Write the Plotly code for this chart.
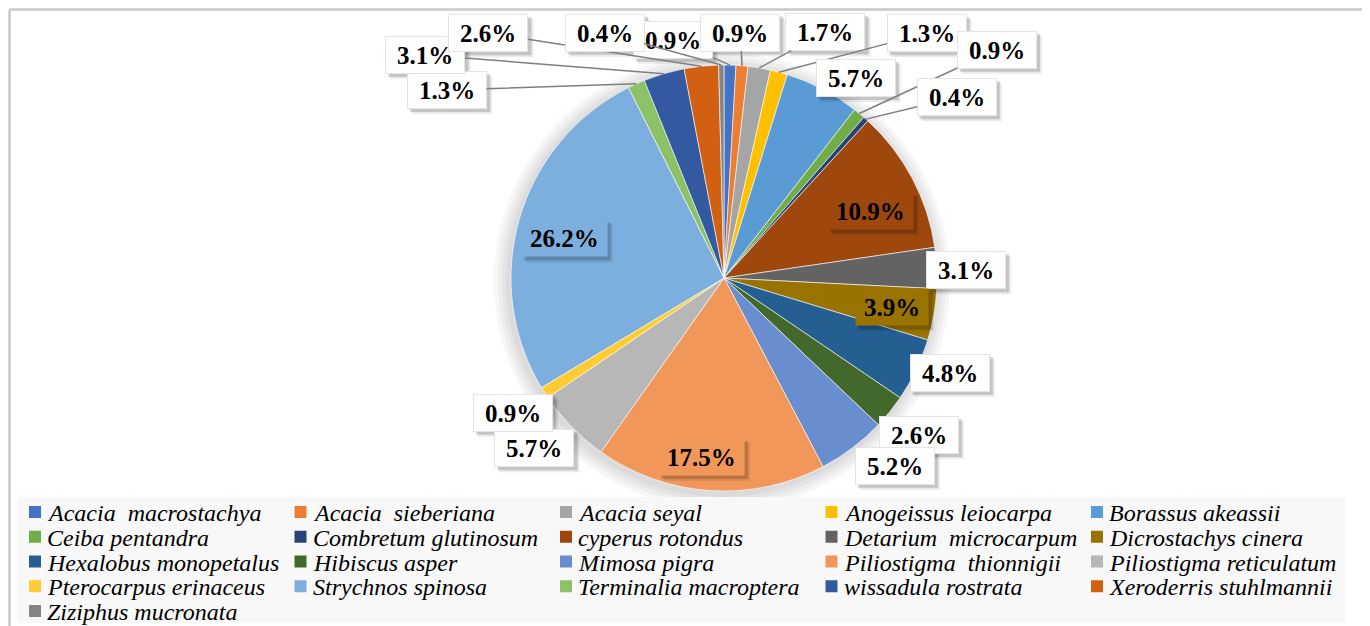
import numpy as np
import plotly.graph_objects as go

species = [
    "Acacia\u00a0 macrostachya", "Acacia\u00a0 sieberiana", "Acacia seyal",
    "Anogeissus leiocarpa", "Borassus akeassii", "Ceiba pentandra",
    "Combretum glutinosum", "cyperus rotondus", "Detarium\u00a0 microcarpum",
    "Dicrostachys cinera", "Hexalobus monopetalus", "Hibiscus asper",
    "Mimosa pigra", "Piliostigma\u00a0 thionnigii", "Piliostigma reticulatum",
    "Pterocarpus erinaceus", "Strychnos spinosa", "Terminalia macroptera",
    "wissadula rostrata", "Xeroderris stuhlmannii", "Ziziphus mucronata",
]
percent = [0.9, 0.9, 1.7, 1.3, 5.7, 0.9, 0.4, 10.9, 3.1, 3.9, 4.8,
           2.6, 5.2, 17.5, 5.7, 0.9, 26.2, 1.3, 3.1, 2.6, 0.4]

colors = ["#4472C4", "#ED7D31", "#A5A5A5", "#FFC000", "#5B9BD5", "#70AD47",
          "#264478", "#9E480E", "#636363", "#997300", "#255E91", "#43682B",
          "#698ED0", "#F1975A", "#B7B7B7", "#FFCD33", "#7CAFDD", "#8CC168",
          "#335AA1", "#D26012", "#848484"]

# page geometry (px); the page body has an 8px margin
OFF = 8
W, H = 1370 - OFF, 626 - OFF
CX, CY, R = 724, 278, 213

# labels drawn inside the slice
inside = {7, 9, 13, 16}
# nudges (px) for crowded labels, and which ones get leader lines
shift = {0: (-58, 12), 1: (-5, 4), 2: (60, 1), 3: (138, -3), 4: (16, 22),
         5: (114, -35), 6: (66, 6), 7: (-4, 13), 8: (-8, 4), 10: (0, -13),
         12: (20, -12), 13: (-11, 9), 14: (-11, -5), 16: (4, 8),
         17: (-174, 40), 18: (-228, 17), 19: (-209, 4), 20: (-116, 5)}
leader = {0, 1, 2, 3, 5, 6, 17, 18, 19, 20}


def px(x):
    return (x - OFF) / W


def py(y):
    return 1 - (y - OFF) / H


fig = go.Figure()
fig.add_trace(go.Pie(
    labels=species, values=percent, sort=False, direction="clockwise",
    rotation=0, textinfo="none", hoverinfo="label+percent", showlegend=False,
    marker=dict(colors=colors, line=dict(color="white", width=0.6)),
    domain=dict(x=[2 * px(CX) - 1, 1], y=[py(CY + R), py(CY - R)]),
))


def text_w(s, size):
    em = {".": 0.25, "%": 1.0}
    return sum(em.get(c, 0.5) for c in s) * size


# chart frame: top, left and right edges
frame = dict(type="line", xref="paper", yref="paper",
             line=dict(color="#c8c8c8", width=2.5), layer="below")
shapes = [dict(frame, x0=px(9.5), x1=px(1366), y0=py(9.5), y1=py(9.5)),
          dict(frame, x0=px(9.5), x1=px(9.5), y0=py(9.5), y1=py(626)),
          dict(frame, x0=px(1366), x1=px(1366), y0=py(9.5), y1=py(626))]
# soft shadow under the pie
for k in range(4):
    rr = R + 3 + 4 * k
    shapes.append(dict(type="circle", xref="paper", yref="paper",
                       x0=px(CX - rr - 2), x1=px(CX + rr - 2),
                       y0=py(CY + rr + 3), y1=py(CY - rr + 3),
                       fillcolor="rgba(0,0,0,0.035)", line=dict(width=0),
                       layer="below"))

annotations = []
FS = 25
BH = 30
ends = np.cumsum(percent)
mids = (ends - np.array(percent) / 2) / 100 * 2 * np.pi
for i, (v, a) in enumerate(zip(percent, mids)):
    txt = f"{v:.1f}%"
    bw = text_w(txt, FS) + (10 if i in inside else 16)
    k = 0.8 if i in inside else 1.175
    lx = CX + k * R * np.sin(a)
    ly = CY - k * R * np.cos(a)
    dx, dy = shift.get(i, (0, 0))
    lx, ly = lx + dx, ly + dy
    bg = colors[i] if i in inside else "white"
    border = "rgba(0,0,0,0)" if i in inside else "#e4e4e4"
    # box shadow
    hw, hh = bw / 2 + 4, BH / 2 + 4
    for off, op in ((5, 0.08), (3, 0.16)):
        shapes.append(dict(type="rect", xref="paper", yref="paper",
                           x0=px(lx - hw + off), x1=px(lx + hw + off),
                           y0=py(ly + hh + off), y1=py(ly - hh + off),
                           fillcolor=f"rgba(0,0,0,{op})", line=dict(width=0),
                           layer="above"))
    base = dict(xref="paper", yref="paper", width=bw, height=BH, borderpad=3,
                xanchor="center", yanchor="middle", text=f"<b>{txt}</b>",
                font=dict(family="Liberation Serif", size=FS, color="black"),
                bgcolor=bg, bordercolor=border, borderwidth=1)
    if i in leader:
        ax_, ay_ = CX + R * np.sin(a), CY - R * np.cos(a)
        base.update(x=px(ax_), y=py(ay_), ax=lx - ax_, ay=ly - ay_,
                    showarrow=True, arrowhead=0, arrowwidth=1.5,
                    arrowcolor="#7f7f7f")
    else:
        base.update(x=px(lx), y=py(ly), showarrow=False)
    annotations.append(base)

# legend: 5 columns, drawn as squares + italic text
shapes.append(dict(type="rect", xref="paper", yref="paper",
                   x0=px(17), x1=px(1345), y0=py(623), y1=py(497),
                   fillcolor="#f8f8f8", line=dict(width=0), layer="below"))
COL0, COLW, ROW0, ROWH = 35, 265.5, 512, 24.75
for i, (name, c) in enumerate(zip(species, colors)):
    cx = COL0 + (i % 5) * COLW
    cy = ROW0 + (i // 5) * ROWH
    shapes.append(dict(type="rect", xref="paper", yref="paper",
                       x0=px(cx - 6), x1=px(cx + 6), y0=py(cy + 6), y1=py(cy - 6),
                       fillcolor=c, line=dict(width=0), layer="above"))
    annotations.append(dict(xref="paper", yref="paper", x=px(cx + 10), y=py(cy + 1),
                            xanchor="left", yanchor="middle", showarrow=False,
                            text=name,
                            font=dict(family="Liberation Serif", size=24,
                                      style="italic", color="black")))

fig.update_layout(
    width=W, height=H,
    margin=dict(l=0, r=0, t=0, b=0),
    paper_bgcolor="white",
    showlegend=False,
    annotations=annotations,
    shapes=shapes,
)

fig.write_html("out.html")
